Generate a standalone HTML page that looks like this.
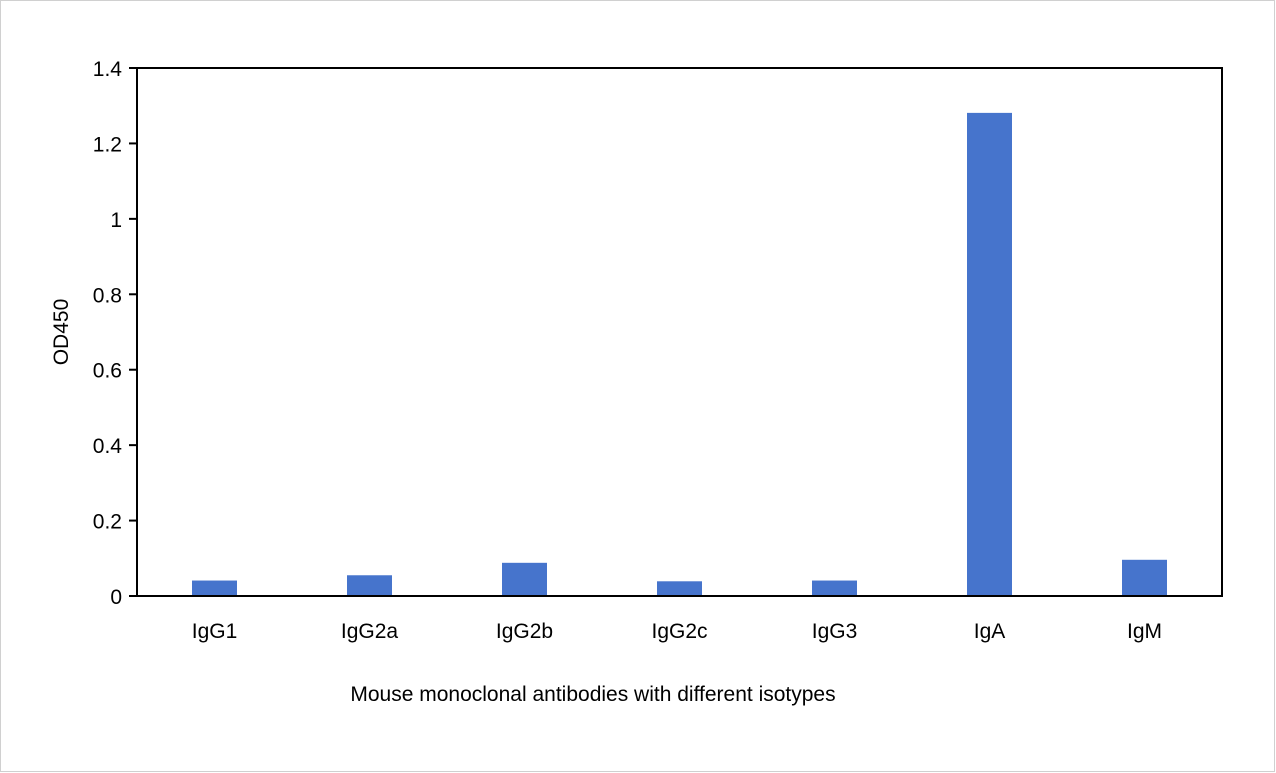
<!DOCTYPE html>
<html><head><meta charset="utf-8"><style>
html,body{margin:0;padding:0;background:#fff;}
svg{display:block;font-family:"Liberation Sans",Arial,sans-serif;}
</style></head><body>
<svg id="chart" width="1276" height="773">
<rect x="0.5" y="0.5" width="1274" height="771" fill="#fff" stroke="#d0d0d0"/>
<g id="plot"></g>
<text x="68" y="332" font-size="21" text-anchor="middle" transform="rotate(-90 68 332)">OD450</text>
<text x="593" y="701" font-size="21" text-anchor="middle">Mouse monoclonal antibodies with different isotypes</text>
</svg>
<script>
const categories = ["IgG1","IgG2a","IgG2b","IgG2c","IgG3","IgA","IgM"];
const values = [0.041,0.055,0.088,0.039,0.041,1.281,0.096];
const yTicks = [0,0.2,0.4,0.6,0.8,1,1.2,1.4];
const yTickLabels = ["0","0.2","0.4","0.6","0.8","1","1.2","1.4"];
const L=137,R=1222,T=68,B=596,yMax=1.4;
const NS="http://www.w3.org/2000/svg";
const g=document.getElementById('plot');
const y=v=>B-(v/yMax)*(B-T);
const band=(R-L)/categories.length;
const xc=i=>L+band*(i+0.5);
function mk(t,a){const e=document.createElementNS(NS,t);for(const k in a)e.setAttribute(k,a[k]);g.appendChild(e);return e;}
categories.forEach((c,i)=>{
  const bw=45;
  const r=mk('rect',{x:xc(i)-bw/2,y:y(values[i]),width:bw,height:B-y(values[i]),fill:'#4674cc'});
  
  
  const t=mk('text',{x:xc(i),y:638,'font-size':21,'text-anchor':'middle'});
  t.textContent=c;
  
  
});
yTicks.forEach((v,i)=>{
  const l=mk('line',{x1:129,x2:L,y1:y(v),y2:y(v),stroke:'#000','stroke-width':2});
  
  
  const t=mk('text',{x:122,y:y(v)+8,'font-size':21,'text-anchor':'end'});
  t.textContent=yTickLabels[i];
  
  
});
const box=mk('rect',{x:L,y:T,width:R-L,height:B-T,fill:'none',stroke:'#000','stroke-width':2});


</script>
</body></html>
